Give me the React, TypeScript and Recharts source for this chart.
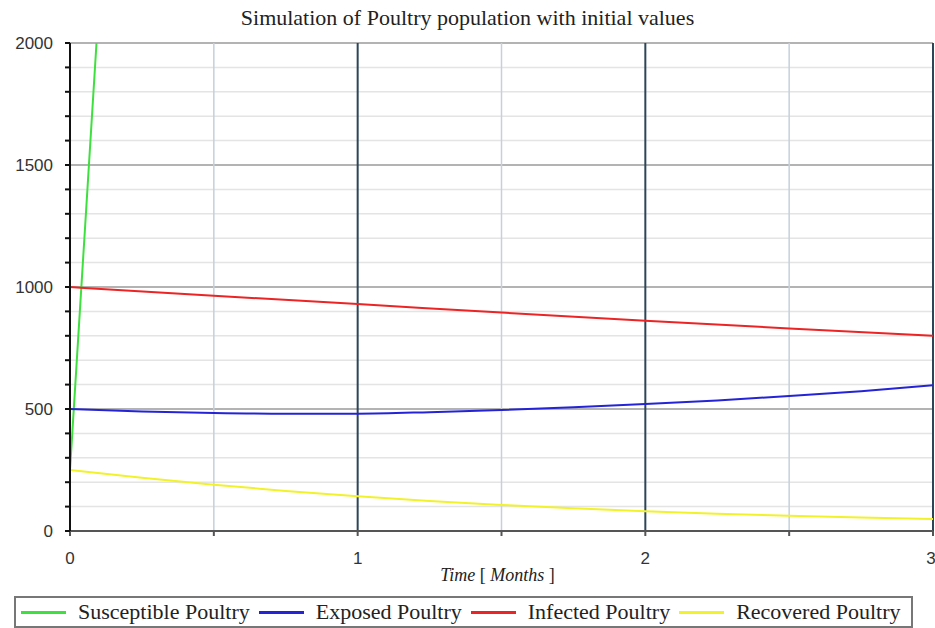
import React from 'react';
import { LineChart, Line, XAxis, YAxis, ReferenceLine } from 'recharts';

// time points (months) and values
const susceptible = [
  { t: 0, v: 250 },
  { t: 0.05, v: 1200 },
  { t: 0.1, v: 2150 },
];

const exposedTime = [0, 0.25, 0.5, 0.75, 1, 1.25, 1.5, 1.75, 2, 2.25, 2.5, 2.75, 3];
const exposedValues = [500, 490, 484, 481, 481, 487, 496, 507, 520, 535, 553, 573, 597];

const infectedTime = [0, 0.5, 1, 1.5, 2, 2.5, 3];
const infectedValues = [1000, 964, 930, 895, 862, 830, 800];

const recoveredTime = [0, 0.25, 0.5, 0.75, 1, 1.25, 1.5, 1.75, 2, 2.25, 2.5, 2.75, 3];
const recoveredValues = [250, 218, 190, 164, 142, 123, 107, 93, 81, 71, 62, 55, 49];

const xTicks = [0, 0.5, 1, 1.5, 2, 2.5, 3];
const yTicks = Array.from({ length: 21 }, (_, i) => i * 100);
const xMajor = [1, 2, 3];
const xMinor = [0.5, 1.5, 2.5];
const yMajor = [500, 1000, 1500, 2000];

const zip = (ts: number[], vs: number[]) => ts.map((t, i) => ({ t, v: vs[i] }));

const series = [
  { name: 'Susceptible Poultry', color: '#3ee03e', data: susceptible },
  { name: 'Exposed Poultry', color: '#2424d6', data: zip(exposedTime, exposedValues) },
  { name: 'Infected Poultry', color: '#ec2424', data: zip(infectedTime, infectedValues) },
  { name: 'Recovered Poultry', color: '#f2f22a', data: zip(recoveredTime, recoveredValues) },
];

const tickFont = "'Liberation Sans', Arial, sans-serif";
const serif = "'Liberation Serif', 'Times New Roman', serif";

const YTick = ({ x, y, payload }: any) =>
  payload.value % 500 === 0 ? (
    <text x={x} y={y} dy={6} textAnchor="end" fontFamily={tickFont} fontSize={17} fill="#333">
      {payload.value}
    </text>
  ) : null;

const XTick = ({ x, y, payload }: any) =>
  Number.isInteger(payload.value) ? (
    <text x={x} y={y} dy={12} textAnchor="middle" fontFamily={tickFont} fontSize={17} fill="#333">
      {payload.value}
    </text>
  ) : null;

export default function App() {
  return (
    <div style={{ position: 'absolute', left: 0, top: 0, width: 935, height: 628, background: '#fff' }}>
      <div
        style={{
          position: 'absolute', top: 5, left: 0, width: 935, textAlign: 'center',
          fontFamily: serif, fontSize: 22, color: '#222',
        }}
      >
        Simulation of Poultry population with initial values
      </div>
      <LineChart width={935} height={628} margin={{ top: 43, right: 2, bottom: 67, left: 0 }}>
        {yTicks.filter((v) => v % 500 !== 0).map((v) => (
          <ReferenceLine key={'hm' + v} y={v} stroke="#e4e4e4" strokeWidth={1.5} />
        ))}
        {yMajor.map((v) => (
          <ReferenceLine key={'hM' + v} y={v} stroke="#9a9a9a" strokeWidth={1.5} />
        ))}
        {xMinor.map((v) => (
          <ReferenceLine key={'vm' + v} x={v} stroke="#c5cfdd" strokeWidth={1.5} />
        ))}
        {xMajor.map((v) => (
          <ReferenceLine key={'vM' + v} x={v} stroke="#2c4658" strokeWidth={2} />
        ))}
        <XAxis
          dataKey="t"
          type="number"
          domain={[0, 3]}
          ticks={xTicks}
          allowDuplicatedCategory={false}
          height={30}
          stroke="#555"
          strokeWidth={2}
          tickSize={5}
          tickMargin={16}
          tick={<XTick />}
        />
        <YAxis
          dataKey="v"
          type="number"
          domain={[0, 2000]}
          allowDataOverflow
          ticks={yTicks}
          interval={0}
          width={70}
          stroke="#111"
          strokeWidth={2}
          tickSize={5}
          tickMargin={12}
          tick={<YTick />}
        />
        {series.map((s) => (
          <Line
            key={s.name}
            data={s.data}
            dataKey="v"
            name={s.name}
            type="monotone"
            stroke={s.color}
            strokeWidth={2}
            dot={false}
            isAnimationActive={false}
          />
        ))}
      </LineChart>
      <div
        style={{
          position: 'absolute', top: 565, left: 0, width: 995, textAlign: 'center',
          fontFamily: serif, fontSize: 18, color: '#222',
        }}
      >
        <i>Time</i> [ <i>Months</i> ]
      </div>
      <div
        style={{
          position: 'absolute', left: 14, top: 596, width: 890, height: 28,
          border: '2px solid #777', display: 'flex', alignItems: 'center',
          padding: '0 0 0 5px', boxSizing: 'content-box',
          fontFamily: serif, fontSize: 22, color: '#222', whiteSpace: 'nowrap',
        }}
      >
        {series.map((s) => (
          <div key={s.name} style={{ display: 'flex', alignItems: 'center', marginRight: 9 }}>
            <span style={{ display: 'inline-block', width: 45, height: 3, background: s.color, marginRight: 12 }} />
            <span>{s.name}</span>
          </div>
        ))}
      </div>
    </div>
  );
}
